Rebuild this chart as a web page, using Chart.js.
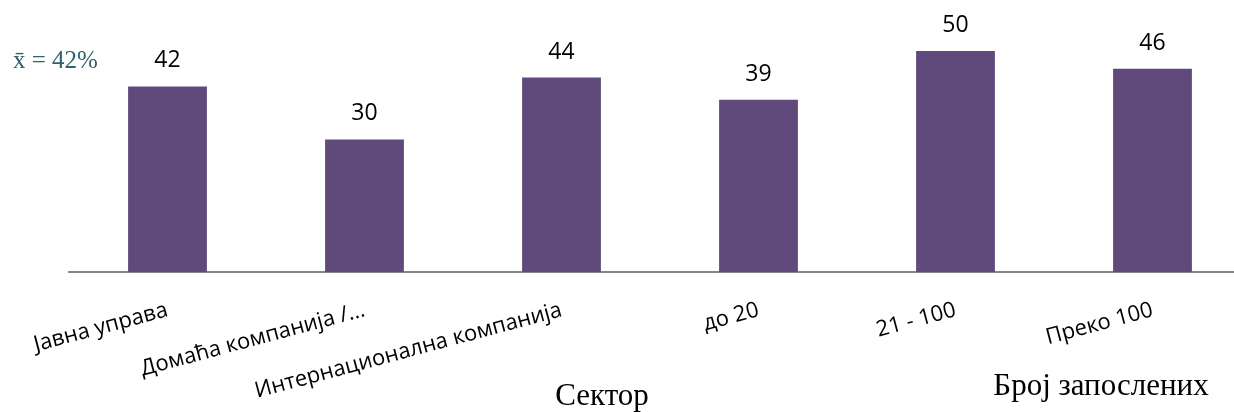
<!DOCTYPE html>
<html>
<head>
<meta charset="utf-8">
<script src="https://cdn.jsdelivr.net/npm/chart.js@4.4.0/dist/chart.umd.min.js"></script>
<style>
  html, body { margin: 0; padding: 0; background: #fff; overflow: hidden; }
  #wrap { width: 1251px; height: 412px; }
</style>
</head>
<body>
<div id="wrap"><canvas id="chart"></canvas></div>
<script>
// Data
const categories = ['Јавна управа', 'Домаћа компанија /…', 'Интернационална компанија', 'до 20', '21 - 100', 'Преко 100'];
const values = [42, 30, 44, 39, 50, 46];
const groupLabels = ['Сектор', 'Број запослених'];
const meanLabel = 'x\u0304 = 42%';

const barColor = '#604a7b';

// Value labels above each bar
const valueLabels = {
    id: 'valueLabels',
    afterDatasetsDraw(chart) {
        const ctx = chart.ctx;
        const meta = chart.getDatasetMeta(0);
        ctx.save();
        ctx.font = '23px "Open Sans"';
        ctx.fillStyle = '#000';
        ctx.textAlign = 'center';
        ctx.textBaseline = 'alphabetic';
        meta.data.forEach((bar, i) => {
            ctx.fillText(values[i], bar.x, bar.y - 19);
        });
        ctx.restore();
    }
};

// Group captions under the axis and the mean note
const extraText = {
    id: 'extraText',
    afterDraw(chart) {
        const ctx = chart.ctx;
        ctx.save();
        ctx.textBaseline = 'alphabetic';
        ctx.font = '31px "Liberation Serif"';
        ctx.fillStyle = '#000';
        ctx.textAlign = 'center';
        ctx.fillText(groupLabels[0], 602, 405);
        ctx.fillText(groupLabels[1], 1101, 395);

        ctx.font = '25px "Liberation Serif"';
        ctx.fillStyle = '#31616f';
        ctx.textAlign = 'left';
        ctx.fillText(meanLabel, 13, 68);
        ctx.restore();
    }
};

new Chart(document.getElementById('chart'), {
    type: 'bar',
    data: {
        labels: categories,
        datasets: [{
            data: values,
            backgroundColor: barColor,
            barPercentage: 0.4,
            categoryPercentage: 1
        }]
    },
    options: {
        responsive: true,
        maintainAspectRatio: false,
        animation: false,
        layout: { padding: { left: 69, top: 29, right: 0, bottom: 0 } },
        plugins: {
            legend: { display: false },
            tooltip: { enabled: false }
        },
        scales: {
            x: {
                grid: { display: false },
                border: { display: true, color: '#878787', width: 2 },
                ticks: {
                    autoSkip: false,
                    minRotation: 15,
                    maxRotation: 15,
                    padding: 17,
                    color: '#000',
                    font: { family: '"Open Sans"', size: 22 }
                },
                afterFit(scale) { scale.height = 140; }
            },
            y: {
                display: false,
                min: 0,
                max: 55
            }
        }
    },
    plugins: [valueLabels, extraText]
});
</script>
</body>
</html>
